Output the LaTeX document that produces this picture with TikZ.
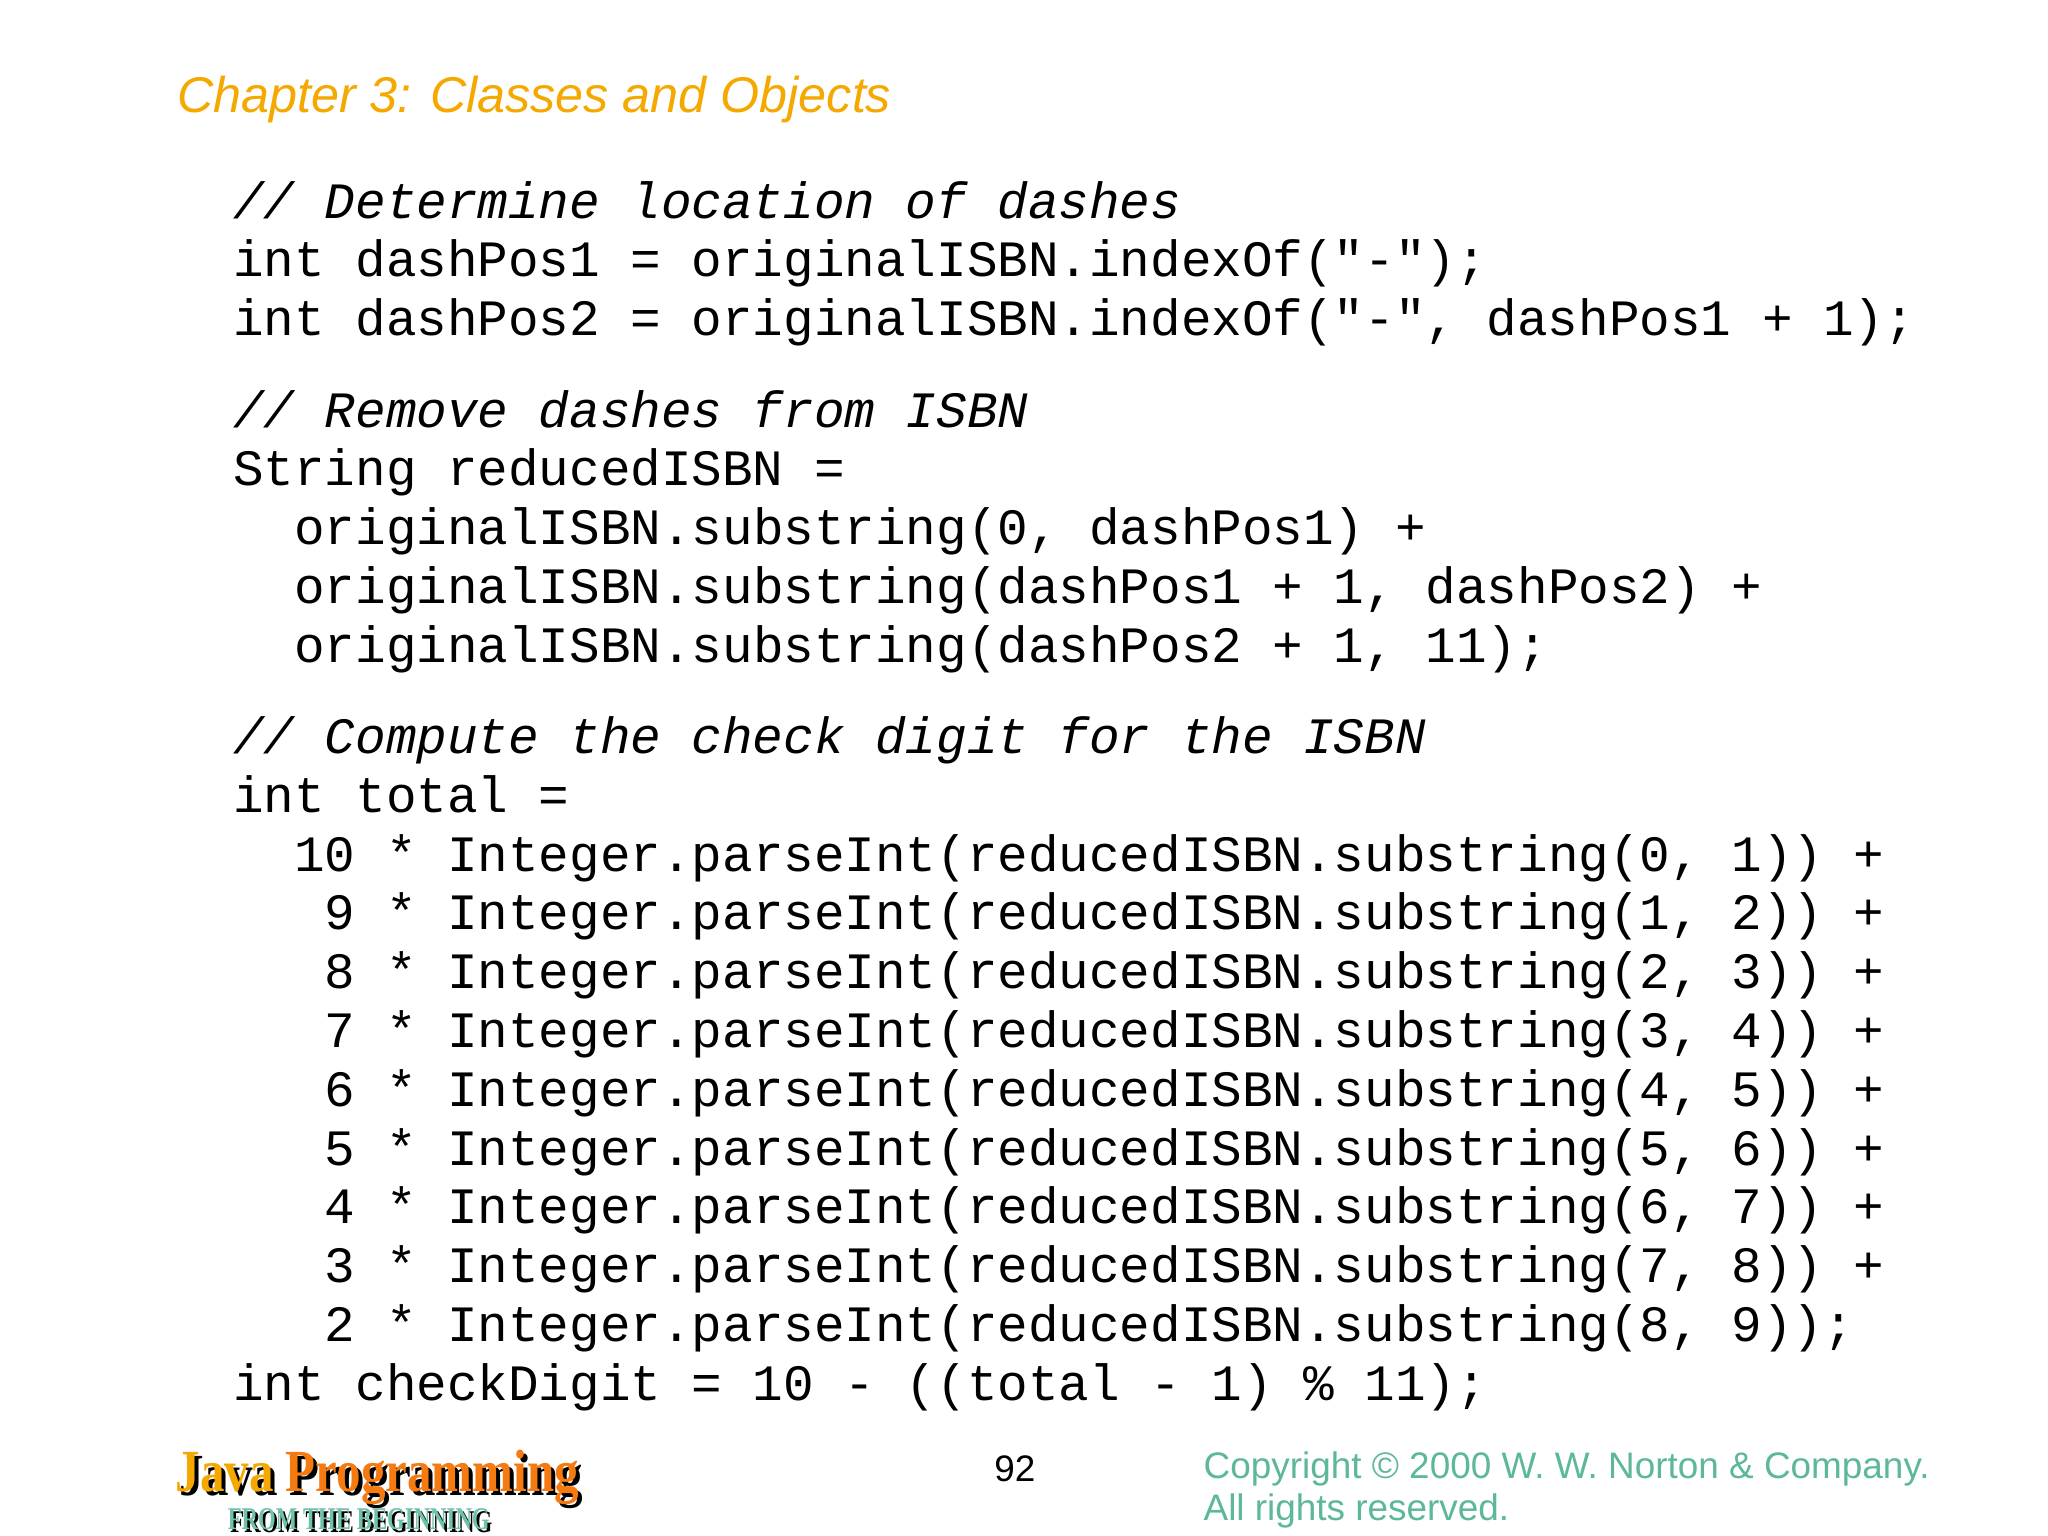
\documentclass[tikz,border=0pt]{standalone}
\usepackage{fontspec}
\setmainfont{Liberation Sans}
\newfontfamily\codefont{Liberation Mono}
\newfontfamily\logofont{Liberation Serif}
\definecolor{titleor}{HTML}{F5A800}
\definecolor{copyg}{HTML}{5DB89A}
\definecolor{logoy}{HTML}{F5A800}
\definecolor{logoo}{HTML}{F57A10}
\definecolor{logot}{HTML}{6EC1AA}
\tikzset{
 code/.style={anchor=base west,inner sep=0pt,font=\codefont\fontsize{14.5}{14.5}\selectfont},
 comment/.style={code,font=\codefont\itshape\fontsize{14.5}{14.5}\selectfont},
}
\begin{document}
\begin{tikzpicture}[x=0.01306cm,y=-0.01306cm]
\useasboundingbox[fill=white] (0,0) rectangle (1568,1176);
\node[anchor=base west,inner sep=0pt,text=titleor,font=\itshape\fontsize{14.3}{14.3}\selectfont] (title) at (135,86) {Chapter 3: Classes and Objects};
\node[comment] (l1) at (178,167) {// Determine location of dashes};
\node[code] (l2) at (178,212) {int dashPos1 = originalISBN.indexOf("-");};
\node[code] (l3) at (178,257) {int dashPos2 = originalISBN.indexOf("-", dashPos1 + 1);};
\node[comment] (l4) at (178,327) {// Remove dashes from ISBN};
\node[code] (l5) at (178,372) {String reducedISBN =};
\node[code] (l6) at (178,417) {\ \ originalISBN.substring(0, dashPos1) +};
\node[code] (l7) at (178,462) {\ \ originalISBN.substring(dashPos1 + 1, dashPos2) +};
\node[code] (l8) at (178,507) {\ \ originalISBN.substring(dashPos2 + 1, 11);};
\node[comment] (l9) at (178,577) {// Compute the check digit for the ISBN};
\node[code] (l10) at (178,622) {int total =};
\node[code] (m0) at (178,667) {\ \ 10 * Integer.parseInt(reducedISBN.substring(0, 1)) +};
\node[code] (m1) at (178,712) {\ \ \ 9 * Integer.parseInt(reducedISBN.substring(1, 2)) +};
\node[code] (m2) at (178,757) {\ \ \ 8 * Integer.parseInt(reducedISBN.substring(2, 3)) +};
\node[code] (m3) at (178,802) {\ \ \ 7 * Integer.parseInt(reducedISBN.substring(3, 4)) +};
\node[code] (m4) at (178,847) {\ \ \ 6 * Integer.parseInt(reducedISBN.substring(4, 5)) +};
\node[code] (m5) at (178,892) {\ \ \ 5 * Integer.parseInt(reducedISBN.substring(5, 6)) +};
\node[code] (m6) at (178,937) {\ \ \ 4 * Integer.parseInt(reducedISBN.substring(6, 7)) +};
\node[code] (m7) at (178,982) {\ \ \ 3 * Integer.parseInt(reducedISBN.substring(7, 8)) +};
\node[code] (m8) at (178,1027) {\ \ \ 2 * Integer.parseInt(reducedISBN.substring(8, 9));};
\node[code] (l11) at (178,1072) {int checkDigit = 10 - ((total - 1) \% 11);};
% footer
\node[anchor=base,inner sep=0pt,font=\fontsize{10.5}{10.5}\selectfont] (pg) at (777,1134) {92};
\node[anchor=base west,inner sep=0pt,text=copyg,font=\fontsize{10.5}{10.5}\selectfont] (c1) at (921,1132) {Copyright © 2000 W. W. Norton \& Company.};
\node[anchor=base west,inner sep=0pt,text=copyg,font=\fontsize{10.5}{10.5}\selectfont] (c2) at (921,1164) {All rights reserved.};
% logo
\node[anchor=base west,inner sep=0pt,xscale=0.82,font=\logofont\bfseries\fontsize{17}{17}\selectfont] (lgs) at (137,1145) {Java Programming};
\node[anchor=base west,inner sep=0pt,xscale=0.82,font=\logofont\bfseries\fontsize{17}{17}\selectfont] (lg) at (134,1142) {\textcolor{logoy}{Java} \textcolor{logoo}{Programming}};
\node[anchor=base west,inner sep=0pt,xscale=0.72,font=\logofont\bfseries\fontsize{9}{9}\selectfont] (lbs) at (176,1173) {FROM THE BEGINNING};
\node[anchor=base west,inner sep=0pt,xscale=0.72,text=logot,font=\logofont\bfseries\fontsize{9}{9}\selectfont] (lb) at (174,1171) {FROM THE BEGINNING};
\end{tikzpicture}
\end{document}
